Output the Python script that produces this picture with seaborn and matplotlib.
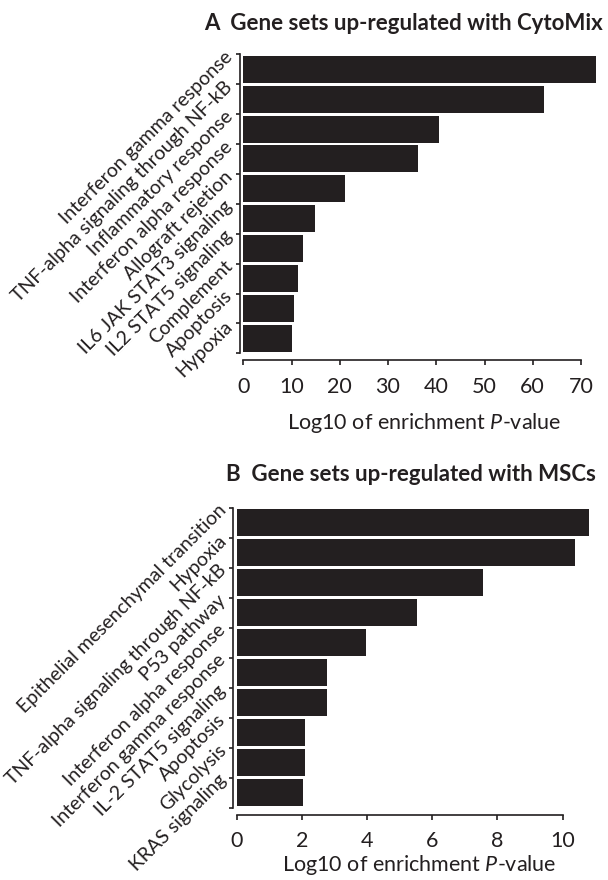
import numpy as np
import matplotlib
matplotlib.use("Agg")
import matplotlib.pyplot as plt
import seaborn as sns

# Gene set enrichment, CytoMix
cyto_sets = [
    "Interferon gamma response",
    "TNF-alpha signaling through NF-kB",
    "Inflammatory response",
    "Interferon alpha response",
    "Allograft rejetion",
    "IL6 JAK STAT3 signaling",
    "IL2 STAT5 signaling",
    "Complement",
    "Apoptosis",
    "Hypoxia",
]
cyto_vals = [73.1, 62.3, 40.6, 36.2, 21.1, 14.9, 12.3, 11.4, 10.6, 10.0]
cyto_ticks = [0, 10, 20, 30, 40, 50, 60, 70]

# Gene set enrichment, MSCs
msc_sets = [
    "Epithelial mesenchymal transition",
    "Hypoxia",
    "TNF-alpha signaling through NF-kB",
    "P53 pathway",
    "Interferon alpha response",
    "Interferon gamma response",
    "IL-2 STAT5 signaling",
    "Apoptosis",
    "Glycolysis",
    "KRAS signaling",
]
msc_vals = [10.81, 10.37, 7.55, 5.52, 3.97, 2.76, 2.76, 2.11, 2.11, 2.02]
msc_ticks = [0, 2, 4, 6, 8, 10]

sns.set_theme(style="ticks")
plt.rcParams["font.family"] = ["Lato", "DejaVu Sans"]
plt.rcParams["mathtext.fontset"] = "custom"
plt.rcParams["mathtext.rm"] = "Lato"
plt.rcParams["mathtext.it"] = "Lato:italic"

W, H = 608, 880
fig = plt.figure(figsize=(W / 100, H / 100), dpi=100)

BAR = "#231f20"
INK = "#231f20"


def px_axes(left, top, right, bottom):
    return fig.add_axes([left / W, 1 - bottom / H, (right - left) / W, (bottom - top) / H])


def panel(ax, names, vals, ticks, xmax, title, tx, ty, xlabelpad):
    sns.barplot(x=vals, y=names, orient="h", color=BAR, saturation=1,
                width=0.9, ax=ax, edgecolor="none")
    n = len(names)

    # spine layout first: moving a spine resets the tick objects
    for s in ("top", "right"):
        ax.spines[s].set_visible(False)
    ax.spines["left"].set_position(("outward", 2.6))
    ax.spines["bottom"].set_position(("outward", 5.0))
    for s in ("left", "bottom"):
        ax.spines[s].set_linewidth(1.2)
        ax.spines[s].set_color(INK)

    ax.set_xlim(0, xmax)
    ax.set_ylim(n - 0.5, -0.5)
    ax.spines["left"].set_bounds(-0.5, n - 0.5)
    ax.spines["bottom"].set_bounds(ticks[0], ticks[-1])

    ax.set_yticks(np.arange(-0.5, n, 1.0), labels=list(names) + [""])
    ax.set_xticks(ticks, labels=[str(t) for t in ticks])
    ax.tick_params(axis="y", length=3.2, width=1.2, pad=4, color=INK,
                   labelsize=14, labelcolor=INK, labelrotation=45)
    ax.tick_params(axis="x", length=3.4, width=1.2, pad=8.5, color=INK,
                   labelsize=15.5, labelcolor=INK)
    for lbl in ax.get_yticklabels():
        lbl.set_horizontalalignment("right")
        lbl.set_verticalalignment("center")
        lbl.set_rotation_mode("anchor")

    ax.set_ylabel("")
    ax.set_xlabel(r"Log10 of enrichment $\it{P}$-value", fontsize=15.5,
                  color=INK, labelpad=xlabelpad)
    ax.set_facecolor("white")
    fig.text(tx / W, 1 - ty / H, title, fontsize=16, fontweight="bold",
             ha="left", va="center", color=INK)


axA = px_axes(243.3, 54.3, 243.3 + 75 * 4.824, 353.3)
panel(axA, cyto_sets, cyto_vals, cyto_ticks, 75,
      "A  Gene sets up-regulated with CytoMix", 204, 24, 10.5)

axB = px_axes(236.7, 507.7, 236.7 + 11.2 * 32.6, 807.7)
panel(axB, msc_sets, msc_vals, msc_ticks, 11.2,
      "B  Gene sets up-regulated with MSCs", 226, 474, 1.5)

fig.savefig("out.png", dpi=100, facecolor="white")
